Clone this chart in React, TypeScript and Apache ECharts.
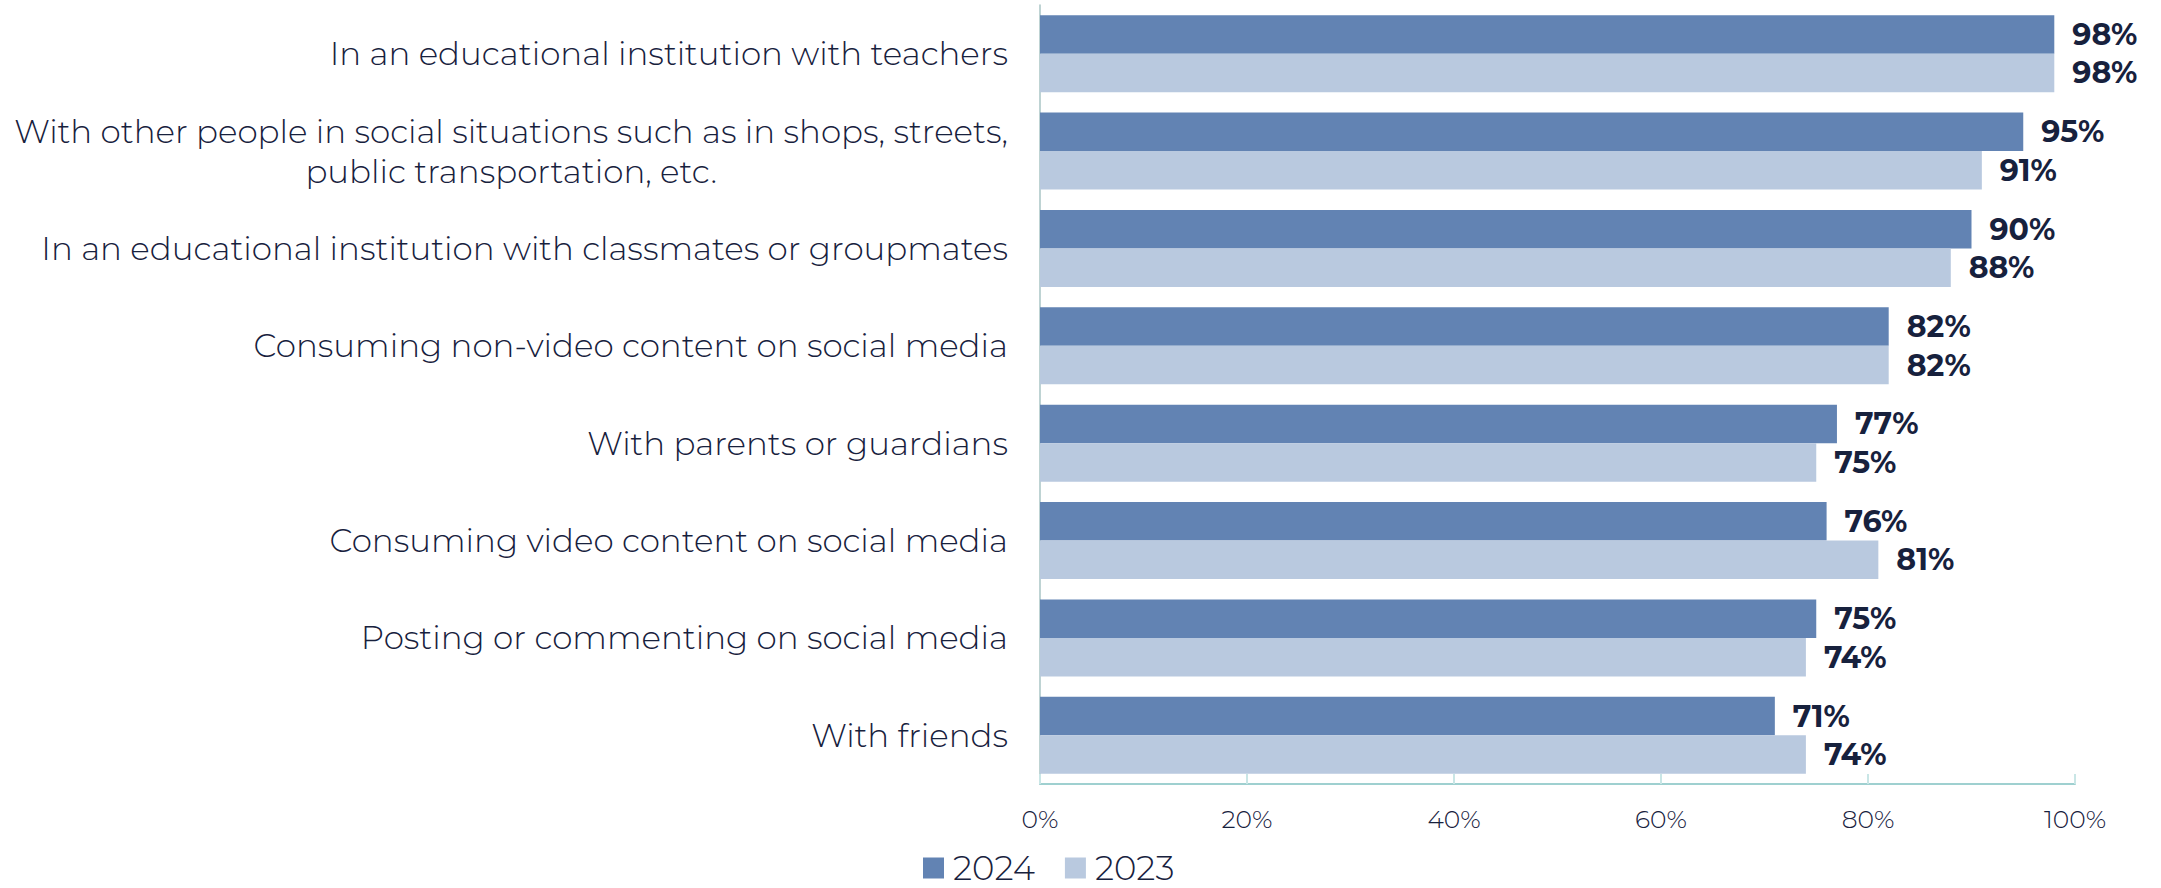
import React, { useEffect, useRef } from "react";
import * as echarts from "echarts";

const categories: string[] = [
  "In an educational institution with teachers",
  "With other people in social situations such as in shops, streets,\npublic transportation, etc.",
  "In an educational institution with classmates or groupmates",
  "Consuming non-video content on social media",
  "With parents or guardians",
  "Consuming video content on social media",
  "Posting or commenting on social media",
  "With friends",
];
const values2024: number[] = [98, 95, 90, 82, 77, 76, 75, 71];
const values2023: number[] = [98, 91, 88, 82, 75, 81, 74, 74];
const seriesNames: string[] = ["2024", "2023"];
const xTicks: number[] = [0, 20, 40, 60, 80, 100];

const FONT = "Montserrat, 'Open Sans', sans-serif";
const TEXT = "#17213d";
const C2024 = "#6283b3";
const C2023 = "#b9c9df";

export default function App() {
  const ref = useRef<HTMLDivElement>(null);
  useEffect(() => {
    document.body.style.margin = "0";
    if (!ref.current) return;
    const chart = echarts.init(ref.current, undefined, { renderer: "svg" });
    const catStyle = {
      fontFamily: FONT,
      fontSize: 32.5,
      fontWeight: 300 as any,
      color: TEXT,
      lineHeight: 40,
    };
    const valueLabel = {
      show: true,
      position: "right",
      distance: 18,
      formatter: "{c}%",
      fontFamily: FONT,
      fontSize: 30,
      fontWeight: "bold",
      color: TEXT,
    };
    chart.setOption({
      animation: false,
      backgroundColor: "#ffffff",
      grid: { left: 1040, right: 86, top: 5, bottom: 104, containLabel: false },
      legend: {
        data: seriesNames,
        left: 918,
        top: 846,
        itemWidth: 21,
        itemHeight: 21,
        itemGap: 30,
        icon: "rect",
        textStyle: {
          fontFamily: FONT,
          fontSize: 34,
          fontWeight: 300,
          lineHeight: 34,
          color: TEXT,
          padding: [0, 0, 0, 4],
        },
      },
      xAxis: {
        type: "value",
        min: 0,
        max: 100,
        interval: 20,
        axisLine: { show: true, lineStyle: { color: "#9fd0d0", width: 2 } },
        axisTick: { show: true, inside: true, length: 10, lineStyle: { color: "#c9e6e6", width: 2 } },
        splitLine: { show: false },
        axisLabel: {
          formatter: (v: number) => (xTicks.includes(v) ? v + "%" : ""),
          fontFamily: FONT,
          fontSize: 25,
          fontWeight: 300,
          color: TEXT,
          margin: 22,
        },
      },
      yAxis: {
        type: "category",
        data: categories,
        inverse: true,
        axisLine: { show: true, lineStyle: { color: "#a9c4c4", width: 1.5 } },
        axisTick: { show: false },
        axisLabel: {
          margin: 32,
          ...catStyle,
          formatter: (v: string) => {
            if (v.indexOf("\n") >= 0) {
              const [l1, l2] = v.split("\n");
              return "{a|" + l1 + "}\n{c|" + l2 + "}";
            }
            return v;
          },
          rich: {
            a: { ...catStyle, align: "right" },
            c: { ...catStyle, align: "center" },
          },
        },
      },
      series: [
        {
          name: seriesNames[0],
          type: "bar",
          data: values2024,
          barGap: "0%",
          barCategoryGap: "21%",
          itemStyle: { color: C2024 },
          label: valueLabel,
        },
        {
          name: seriesNames[1],
          type: "bar",
          data: values2023,
          barGap: "0%",
          barCategoryGap: "21%",
          itemStyle: { color: C2023 },
          label: valueLabel,
        },
      ],
    });
    return () => chart.dispose();
  }, []);
  return <div ref={ref} style={{ width: 2161, height: 888 }} />;
}
